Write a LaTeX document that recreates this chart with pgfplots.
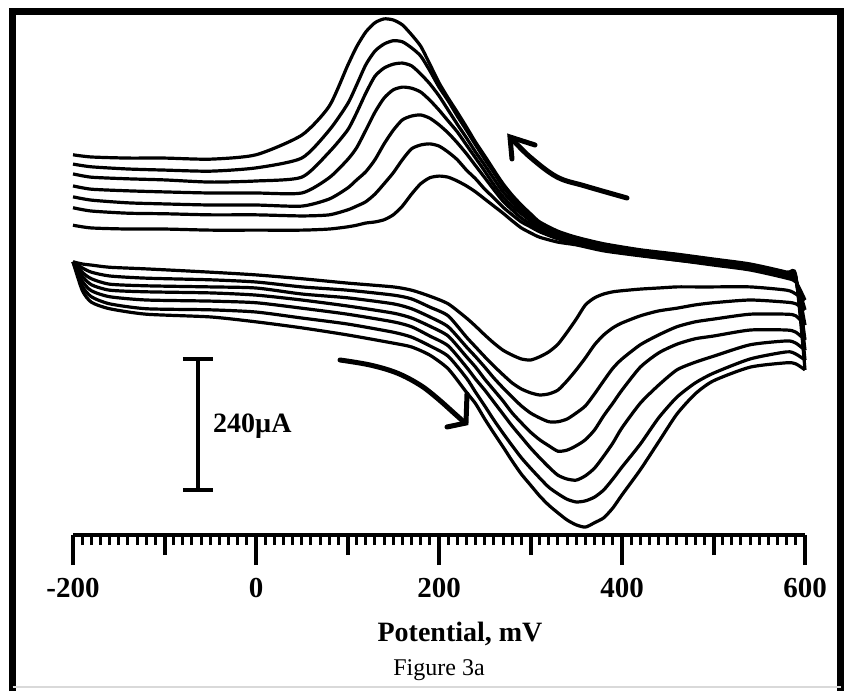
\documentclass[border=0pt]{standalone}
\usepackage{pgfplots}
\pgfplotsset{compat=1.18}
\usepackage{pgfplotstable}
\usepackage{fontspec}
\setmainfont{Liberation Serif}

% reverse scan (600 -> -200 mV), current in microampere
\pgfplotstableread{
x u1 u2 u3 u4 u5 u6 u7
-200 82 114 134 154 176 194 211
-180 77 108 128 148 170 189 207
-140 75 104 123 145 167 185 205
-100 75 103 121 143 165 183 205
-50 73 101 119 141 161 181 203
0 73 101 119 141 163 187 211
50 73 99 117 141 170 205 247
80 75 101 130 169 216 256 300
100 79 110 150 202 256 304 374
110 82 117 165 224 288 339 409
120 86 125 180 256 324 376 436
130 88 139 202 289 355 401 453
140 92 158 231 315 370 414 460
150 101 178 256 330 377 420 458
160 117 202 275 335 379 418 449
170 139 222 282 333 374 407 431
180 158 229 284 326 359 392 410
190 169 231 278 311 341 365 377
200 172 227 266 293 319 335 343
210 170 216 251 273 293 310 315
220 163 202 233 253 267 282 289
230 154 183 213 229 242 256 262
240 143 167 191 205 216 229 234
250 130 148 169 181 192 203 209
260 117 132 147 156 167 178 183
270 104 115 126 134 143 152 158
280 90 101 110 117 125 132 137
290 77 88 95 103 108 114 119
300 68 79 84 90 93 97 103
310 60 70 73 77 81 84 88
330 51 57 60 62 66 68 71
350 46 49 51 53 57 59 60
380 35 38 40 42 44 46 48
420 26 27 29 31 33 35 37
460 18 18 20 22 24 26 29
500 9 11 13 15 16 18 20
540 0 2 4 5 7 9 11
580 -15 -13 -11 -9 -7 -5 -4
590 -22 -20 -18 -16 -15 -13 -11
600 -55 -73 -101 -128 -147 -165 -183
}\revscan

% forward scan (-200 -> 600 mV), current in microampere
\pgfplotstableread{
x l1 l2 l3 l4 l5 l6 l7
-200 15 15 15 15 15 15 15
-190 11 4 -4 -11 -20 -29 -37
-180 9 -4 -16 -27 -38 -49 -59
-160 5 -11 -26 -37 -49 -62 -71
-120 2 -15 -29 -40 -55 -71 -81
-50 -4 -18 -31 -42 -57 -73 -86
0 -9 -22 -33 -46 -60 -77 -95
50 -16 -31 -44 -55 -70 -88 -106
100 -24 -37 -51 -66 -81 -99 -119
150 -31 -46 -62 -79 -95 -114 -134
170 -37 -53 -71 -88 -104 -123 -141
190 -48 -68 -86 -103 -121 -139 -156
210 -62 -84 -104 -121 -139 -158 -181
230 -88 -123 -141 -159 -178 -198 -224
240 -103 -141 -159 -178 -200 -224 -245
250 -119 -159 -178 -200 -220 -249 -273
260 -134 -176 -198 -220 -242 -275 -299
270 -147 -192 -216 -240 -264 -299 -324
280 -156 -207 -233 -262 -286 -322 -350
290 -163 -218 -249 -280 -306 -344 -374
300 -165 -225 -262 -297 -326 -363 -394
310 -159 -229 -271 -311 -344 -381 -414
320 -150 -227 -278 -322 -361 -398 -431
330 -136 -220 -278 -332 -376 -410 -445
340 -114 -203 -273 -330 -383 -420 -458
350 -90 -183 -262 -322 -385 -425 -467
360 -64 -161 -249 -311 -377 -423 -471
370 -51 -137 -227 -293 -363 -416 -463
380 -44 -119 -203 -267 -341 -403 -454
390 -40 -106 -180 -244 -317 -383 -436
400 -38 -97 -163 -220 -289 -361 -412
420 -35 -84 -137 -178 -244 -319 -366
440 -33 -75 -119 -152 -211 -271 -315
460 -31 -70 -104 -136 -183 -233 -264
480 -31 -64 -95 -126 -169 -207 -227
500 -31 -60 -90 -121 -158 -189 -203
540 -31 -55 -81 -110 -137 -163 -178
580 -37 -59 -81 -110 -130 -150 -170
590 -44 -62 -84 -114 -134 -154 -172
600 -55 -73 -101 -128 -147 -165 -183
}\fwdscan

\begin{document}
\begin{tikzpicture}[x=1pt,y=1pt]
\useasboundingbox (0,0) rectangle (846,691);
\fill[white] (0,0) rectangle (846,691);
\draw[line width=7pt, line join=miter] (12.5,0) -- (12.5,679.5) -- (840.5,679.5) -- (840.5,0);
\draw[line width=2pt, gray!30] (12.5,4) -- (840.5,4);

\begin{axis}[
  at={(73pt,156pt)}, anchor=south west,
  scale only axis, width=732pt, height=535pt,
  xmin=-200, xmax=600, ymin=-485.5, ymax=494.6,
  clip=false,
  axis x line*=bottom, axis y line=none,
  x axis line style={line width=4pt, black},
  tick align=outside,
  xtick={-200,0,200,400,600},
  xticklabels={-200,0,200,400,600},
  minor xtick={-190,-180,...,590},
  extra x ticks={-100,100,300,500},
  extra x tick labels={},
  extra x tick style={major tick length=20pt},
  major tick length=30pt,
  minor tick length=10pt,
  major tick style={line width=4pt, black},
  minor tick style={line width=3pt, black},
  /pgf/number format/assume math mode=true,
  xticklabel style={font=\fontsize{29}{31}\selectfont\bfseries, inner sep=2pt, yshift=-11pt},
  cycle list={{black, solid, mark=none}},
  every axis plot post/.append style={black, solid, mark=none, line width=3.2pt, smooth, tension=0.4},
]
\addplot table[x=x,y=u1] {\revscan};
\addplot table[x=x,y=u2] {\revscan};
\addplot table[x=x,y=u3] {\revscan};
\addplot table[x=x,y=u4] {\revscan};
\addplot table[x=x,y=u5] {\revscan};
\addplot table[x=x,y=u6] {\revscan};
\addplot table[x=x,y=u7] {\revscan};
\addplot table[x=x,y=l1] {\fwdscan};
\addplot table[x=x,y=l2] {\fwdscan};
\addplot table[x=x,y=l3] {\fwdscan};
\addplot table[x=x,y=l4] {\fwdscan};
\addplot table[x=x,y=l5] {\fwdscan};
\addplot table[x=x,y=l6] {\fwdscan};
\addplot table[x=x,y=l7] {\fwdscan};
% scale bar: 240 microampere
\draw[line width=4pt] (axis cs:-63,-403) -- (axis cs:-63,-163);
\draw[line width=4pt] (axis cs:-80,-403) -- (axis cs:-47,-403);
\draw[line width=4pt] (axis cs:-80,-163) -- (axis cs:-47,-163);
\end{axis}

\node[anchor=west, font=\fontsize{28}{30}\selectfont\bfseries, inner sep=0pt] at (213,265) {240µA};

% scan direction arrows
\draw[line width=5pt, line cap=round] plot[smooth, tension=0.6] coordinates {(627,493) (585,505) (557,514) (530,534) (512,552)};
\draw[line width=5pt, line cap=round] (535,546) -- (510,554) -- (512,532);
\draw[line width=5pt, line cap=round] plot[smooth, tension=0.6] coordinates {(340,331) (370,326) (397,318) (420,306) (437,293) (455,277) (465,268)};
\draw[line width=5pt, line cap=round] (467,297) -- (466,268) -- (447,264);

\node[font=\fontsize{28}{30}\selectfont\bfseries] at (460,57) {Potential, mV};
\node[font=\fontsize{24}{26}\selectfont] at (439,21) {Figure 3a};
\end{tikzpicture}
\end{document}
